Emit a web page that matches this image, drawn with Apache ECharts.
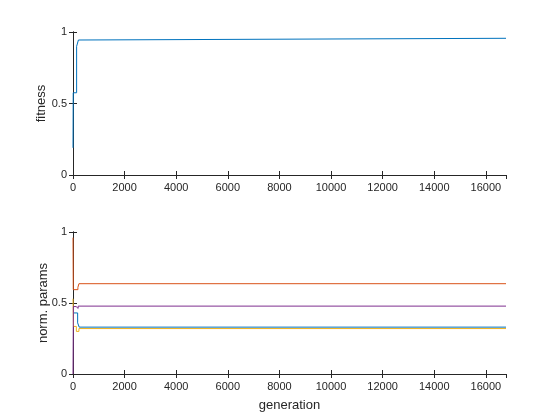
<!DOCTYPE html>
<html>
<head>
<meta charset="utf-8">
<script src="https://cdn.jsdelivr.net/npm/echarts@6/dist/echarts.min.js"></script>
<style>html,body{margin:0;padding:0;background:#fff}#c{width:560px;height:420px}</style>
</head>
<body>
<div id="c"></div>
<script>
// ---- data ----
var xMax = 16780;
var xTicks = [0, 2000, 4000, 6000, 8000, 10000, 12000, 14000, 16000];
var yTicks = [0, 0.5, 1];

var fitGen = [0, 8, 140, 210, 270, 16780];
var fitness = [0.19, 0.575, 0.90, 0.944, 0.956, 0.956];

var p1Gen = [0, 180, 240, 16780];
var p1Val = [0.43, 0.36, 0.33, 0.33];

var p2Gen = [0, 10, 190, 230, 16780];
var p2Val = [0.96, 0.594, 0.61, 0.636, 0.636];

var p3Gen = [0, 20, 130, 230, 16780];
var p3Val = [0.53, 0.335, 0.30, 0.32, 0.32];

var p4Gen = [0, 15, 120, 200, 16780];
var p4Val = [0.0, 0.475, 0.462, 0.478, 0.478];

var colors = ['#0072BD', '#D95319', '#EDB120', '#7E2F8E'];

// stairs: hold each value until the next generation, like MATLAB stairs()
function stairs(g, v) {
  var out = [];
  for (var i = 0; i < g.length; i++) {
    if (i > 0) out.push([g[i], v[i - 1]]);
    out.push([g[i], v[i]]);
  }
  return out;
}

var txt = '#262626';
var fontFam = 'Liberation Sans, Arial, sans-serif';

function xAx(grid, showLabels, name) {
  return {
    type: 'value', gridIndex: grid, min: 0, max: xMax, interval: 2000,
    position: showLabels ? 'bottom' : 'top',
    name: name || '', nameLocation: 'middle', nameGap: 25, nameMoveOverlap: false,
    nameTextStyle: { color: txt, fontSize: 13, fontFamily: fontFam },
    axisLine: { show: true, lineStyle: { color: txt, width: 1 } },
    axisTick: { show: true, inside: true, length: 4, lineStyle: { color: txt } },
    axisLabel: { show: showLabels, color: txt, fontSize: 11, fontFamily: fontFam, margin: 7,
      showMaxLabel: false,
      formatter: function (v) { return xTicks.indexOf(v) >= 0 ? String(v) : ''; } },
    splitLine: { show: false }
  };
}
function yAx(grid, showLabels, name, gap) {
  return {
    type: 'value', gridIndex: grid, min: 0, max: 1, interval: 0.5,
    position: showLabels ? 'left' : 'right',
    name: name || '', nameLocation: 'middle', nameGap: gap || 20, nameMoveOverlap: false,
    nameTextStyle: { color: txt, fontSize: 13, fontFamily: fontFam },
    axisLine: { show: true, lineStyle: { color: txt, width: 1 } },
    axisTick: { show: true, inside: true, length: 4, lineStyle: { color: txt } },
    axisLabel: { show: showLabels, color: txt, fontSize: 11, fontFamily: fontFam, margin: 6,
      formatter: function (v) { return yTicks.indexOf(v) >= 0 ? String(v) : ''; } },
    splitLine: { show: false }
  };
}
function ser(xi, yi, data, color) {
  return { type: 'line', xAxisIndex: xi, yAxisIndex: yi, data: data,
    showSymbol: false, symbol: 'none', animation: false, smooth: false, sampling: null,
    lineStyle: { color: color, width: 1 }, itemStyle: { color: color } };
}

var chart = echarts.init(document.getElementById('c'), null, { renderer: 'canvas' });
chart.setOption({
  backgroundColor: '#ffffff',
  animation: false,
  grid: [
    { left: 73, top: 32, width: 433, height: 143 },
    { left: 73, top: 232, width: 433, height: 142 }
  ],
  xAxis: [xAx(0, true), xAx(0, false), xAx(1, true, 'generation'), xAx(1, false)],
  yAxis: [yAx(0, true, 'fitness', 25), yAx(0, false), yAx(1, true, 'norm. params', 23), yAx(1, false)],
  series: [
    ser(0, 0, stairs(fitGen, fitness), colors[0]),
    ser(2, 2, stairs(p1Gen, p1Val), colors[0]),
    ser(2, 2, stairs(p2Gen, p2Val), colors[1]),
    ser(2, 2, stairs(p3Gen, p3Val), colors[2]),
    ser(2, 2, stairs(p4Gen, p4Val), colors[3])
  ]
});
</script>
</body>
</html>
